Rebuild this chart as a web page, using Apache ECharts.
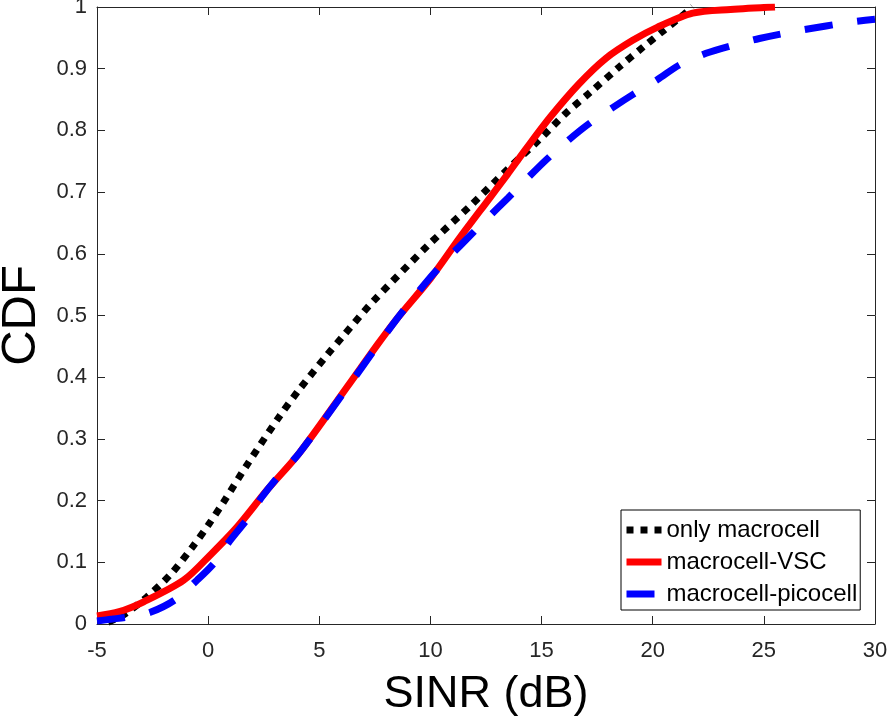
<!DOCTYPE html>
<html>
<head>
<meta charset="utf-8">
<script src="https://cdn.jsdelivr.net/npm/echarts@6/dist/echarts.min.js"></script>
<style>
html,body{margin:0;padding:0;background:#fff;}
#chart{width:887px;height:721px;}
</style>
</head>
<body>
<div id="chart"></div>
<script>
// ---- data ----
const seriesNames = ['only macrocell', 'macrocell-VSC', 'macrocell-picocell'];

const macroX = [-4.5, -3.8, -2.75, -1.7, -0.7, 0, 0.7, 1.75, 3.2, 4.1, 5.35, 6.1, 7.4, 9.9, 11.8, 13.5, 14.9, 16.1, 17.2, 18.5, 19.6, 20.5, 21.4, 21.8];
const macroY = [0.003, 0.015, 0.044, 0.08, 0.125, 0.16, 0.198, 0.258, 0.336, 0.38, 0.436, 0.468, 0.522, 0.614, 0.678, 0.738, 0.785, 0.828, 0.862, 0.903, 0.936, 0.962, 0.988, 1.0];

const vscX = [-5, -4, -2.9, -1.1, 0.1, 1.3, 2.65, 4.1, 6.25, 7.6, 8.5, 10.0, 11.3, 12.7, 13.45, 14.3, 15.4, 16.7, 17.9, 19.1, 20.2, 21.8, 23.5, 25.5];
const vscY = [0.013, 0.02, 0.036, 0.071, 0.112, 0.157, 0.217, 0.277, 0.384, 0.452, 0.495, 0.56, 0.625, 0.692, 0.728, 0.77, 0.822, 0.876, 0.917, 0.946, 0.967, 0.99, 0.996, 1.0];

const picoX = [-5, -4.3, -3.5, -2.6, -1.5, -0.5, 0.3, 1.0, 1.8, 2.4, 3.1, 4.1, 6.2, 8.5, 10.0, 10.9, 11.8, 12.6, 13.5, 14.3, 15.2, 16.2, 17.1, 18.2, 19.1, 20.2, 21.2, 22.4, 23.6, 24.8, 26.6, 29, 30];
const picoY = [0.005, 0.008, 0.012, 0.019, 0.039, 0.071, 0.1, 0.136, 0.172, 0.205, 0.237, 0.277, 0.38, 0.495, 0.562, 0.597, 0.63, 0.659, 0.691, 0.72, 0.752, 0.784, 0.81, 0.837, 0.858, 0.882, 0.906, 0.925, 0.938, 0.949, 0.962, 0.976, 0.98];

const xTicks = { min: -5, max: 30, step: 5 };
const yTicks = { min: 0, max: 1, step: 0.1 };

const pairs = (xs, ys) => xs.map((x, i) => [x, ys[i]]);

const axisColor = '#262626';
const font = 'Liberation Sans, Arial, Helvetica, sans-serif';

const chart = echarts.init(document.getElementById('chart'), null, { renderer: 'canvas' });

const baseX = {
  type: 'value', min: xTicks.min, max: xTicks.max, interval: xTicks.step,
  axisLine: { show: true, onZero: false, lineStyle: { color: axisColor, width: 1 } },
  axisTick: { show: true, inside: true, length: 8, lineStyle: { color: axisColor } },
  splitLine: { show: false }
};
const baseY = {
  type: 'value', min: yTicks.min, max: yTicks.max, interval: yTicks.step,
  axisLine: { show: true, onZero: false, lineStyle: { color: axisColor, width: 1 } },
  axisTick: { show: true, inside: true, length: 8, lineStyle: { color: axisColor } },
  splitLine: { show: false }
};

chart.setOption({
  animation: false,
  backgroundColor: '#fff',
  grid: { left: 97, top: 7, right: 12, bottom: 97, containLabel: false, outerBoundsMode: 'none' },
  xAxis: [
    Object.assign({}, baseX, {
      position: 'bottom',
      name: 'SINR (dB)', nameLocation: 'middle', nameGap: 48,
      nameTextStyle: { fontSize: 45, color: '#000', fontFamily: font },
      axisLabel: { show: true, margin: 16, fontSize: 22, color: axisColor, fontFamily: font }
    }),
    Object.assign({}, baseX, { position: 'top', axisLabel: { show: false } })
  ],
  yAxis: [
    Object.assign({}, baseY, {
      position: 'left',
      name: 'CDF', nameLocation: 'middle', nameGap: 49, nameRotate: 90,
      nameTextStyle: { fontSize: 49, color: '#000', fontFamily: font },
      axisLabel: { show: true, margin: 10, fontSize: 22, color: axisColor, fontFamily: font }
    }),
    Object.assign({}, baseY, { position: 'right', axisLabel: { show: false } })
  ],
  legend: {
    orient: 'vertical', left: 621, top: 510,
    padding: [8, 3, 4, 2], itemGap: 8, itemWidth: 35, itemHeight: 8,
    borderColor: '#000', borderWidth: 1, backgroundColor: '#fff',
    itemStyle: { opacity: 0 },
    lineStyle: { width: 'inherit', type: 'inherit', cap: 'butt' },
    textStyle: { fontSize: 24, lineHeight: 24, color: '#000', fontFamily: font },
    data: seriesNames
  },
  series: [
    {
      name: seriesNames[0], type: 'line', xAxisIndex: 0, yAxisIndex: 0,
      data: pairs(macroX, macroY), smooth: 0.3, symbol: 'none', z: 3,
      lineStyle: { color: '#000', width: 7, type: [7, 7], cap: 'butt' },
      itemStyle: { color: '#000' }
    },
    {
      name: seriesNames[1], type: 'line', xAxisIndex: 0, yAxisIndex: 0,
      data: pairs(vscX, vscY), smooth: 0.3, symbol: 'none', z: 4,
      lineStyle: { color: '#ff0000', width: 7, type: 'solid' },
      itemStyle: { color: '#ff0000' }
    },
    {
      name: seriesNames[2], type: 'line', xAxisIndex: 0, yAxisIndex: 0,
      data: pairs(picoX, picoY), smooth: 0.3, symbol: 'none', z: 5,
      lineStyle: { color: '#0000ff', width: 7, type: [28, 25], cap: 'butt' },
      itemStyle: { color: '#0000ff' }
    }
  ]
});
</script>
</body>
</html>
